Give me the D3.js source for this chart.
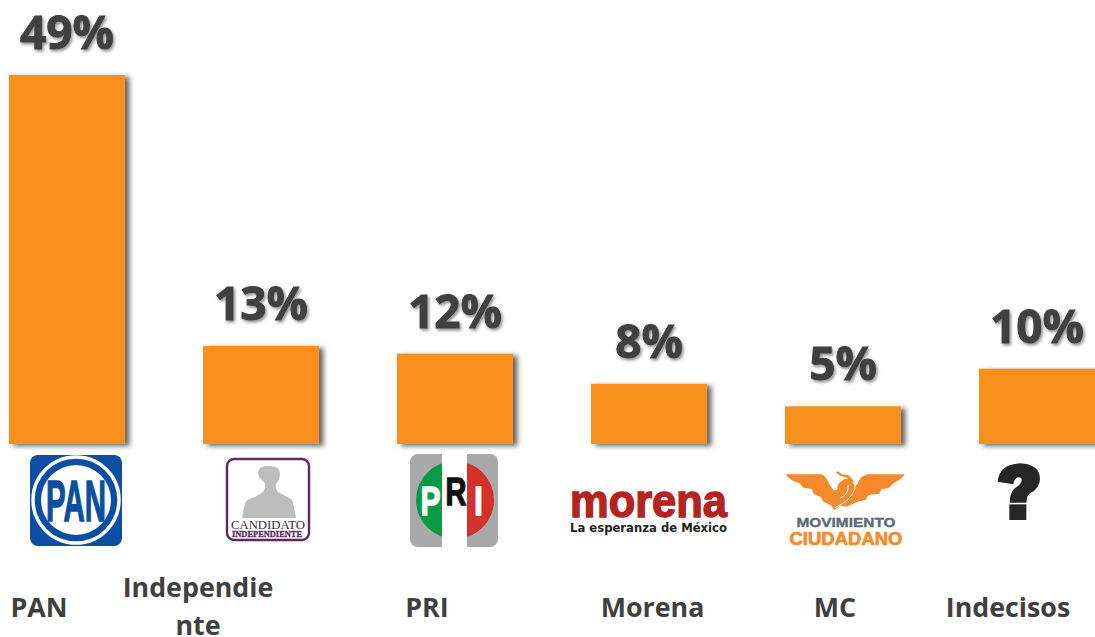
<!DOCTYPE html>
<html><head><meta charset="utf-8">
<script src="https://cdn.jsdelivr.net/npm/d3@7"></script>
<style>html,body{margin:0;padding:0;background:#fff;overflow:hidden}svg{display:block}</style>
</head><body><svg id="c" width="1095" height="637"></svg>
<script>
const categories = ["PAN","Independiente","PRI","Morena","MC","Indecisos"];
const values = [49,13,12,8,5,10];
const labelLines = [["PAN"],["Independie","nte"],["PRI"],["Morena"],["MC"],["Indecisos"]];

const W=1095,H=637, baseY=444, topY=75;
const labelCenters=[39,198,427,652.5,835,1008];
const svg=d3.select("#c");
const defs=svg.append("defs");
const f1=defs.append("filter").attr("id","barShadow").attr("x","-10%").attr("y","-10%").attr("width","130%").attr("height","125%");
f1.append("feDropShadow").attr("dx",4.5).attr("dy",2).attr("stdDeviation",2.8).attr("flood-color","#000").attr("flood-opacity",.6);
const f2=defs.append("filter").attr("id","txtShadow").attr("x","-10%").attr("y","-10%").attr("width","125%").attr("height","130%");
f2.append("feDropShadow").attr("dx",1.5).attr("dy",2).attr("stdDeviation",1.4).attr("flood-color","#000").attr("flood-opacity",.45);

const x=d3.scaleBand().domain(categories).range([-30,1134]).paddingInner(.402).paddingOuter(.201);
const y=d3.scaleLinear().domain([0,49]).range([baseY,topY]);

svg.append("g").selectAll("rect").data(categories).join("rect")
 .attr("x",d=>x(d)).attr("width",x.bandwidth())
 .attr("y",(d,i)=>y(values[i])).attr("height",(d,i)=>baseY-y(values[i]))
 .attr("fill","#f7901e").attr("filter","url(#barShadow)");

svg.append("g").selectAll("text").data(categories).join("text")
 .attr("x",d=>x(d)+x.bandwidth()/2).attr("y",(d,i)=>y(values[i])-26)
 .attr("text-anchor","middle").attr("font-family","'Open Sans'").attr("font-weight",700)
 .attr("font-size",46).attr("fill","#404040").attr("stroke","#404040").attr("stroke-width",.9)
 .attr("filter","url(#txtShadow)")
 .text((d,i)=>values[i]+"%");

const lab=svg.append("g").selectAll("text").data(labelLines).join("text")
 .attr("text-anchor","middle").attr("font-family","'Open Sans'").attr("font-weight",700)
 .attr("font-size",26.8).attr("fill","#404040");
lab.each(function(lines,i){
  const t=d3.select(this);
  const y0=lines.length>1?597:617;
  lines.forEach((l,j)=>t.append("tspan").attr("x",labelCenters[i]).attr("y",y0+j*38).text(l));
});

/* ---- logos ---- */
const sans="'Liberation Sans'", serif="'Liberation Serif'";
// PAN
const pan=svg.append("g");
pan.append("rect").attr("x",30).attr("y",455).attr("width",92).attr("height",91).attr("rx",8).attr("fill","#0b4ea2");
pan.append("circle").attr("cx",76).attr("cy",500).attr("r",43).attr("fill","none").attr("stroke","#fff").attr("stroke-width",3.5);
pan.append("circle").attr("cx",76).attr("cy",500).attr("r",35).attr("fill","#fff");
pan.append("text").attr("x",76).attr("y",521).attr("text-anchor","middle").attr("font-family",sans).attr("font-weight",700)
 .attr("font-size",57).attr("textLength",60).attr("lengthAdjust","spacingAndGlyphs").attr("fill","#0b4ea2")
 .attr("stroke","#0b4ea2").attr("stroke-width",1.4).text("PAN");
// Candidato
const ci=svg.append("g");
ci.append("rect").attr("x",227).attr("y",459).attr("width",82).attr("height",81).attr("rx",7).attr("fill","#fff").attr("stroke","#5b2a5e").attr("stroke-width",2.4);
ci.append("path").attr("fill","#bdbdbd").attr("d","M242,518 L245,503 Q247,499 255,497 L263,492 Q266,488 265,483 Q258,478 258,472 Q259,466 267,466 Q279,465 280,473 Q280,480 276,484 Q275,489 278,492 L287,497 Q293,499 293,503 L296,518 Z");
ci.append("text").attr("x",268).attr("y",528.5).attr("text-anchor","middle").attr("font-family",serif).attr("font-size",11.5).attr("textLength",74).attr("lengthAdjust","spacingAndGlyphs").attr("fill","#3e1f45").text("CANDIDATO");
ci.append("text").attr("x",267).attr("y",536.5).attr("text-anchor","middle").attr("font-family",serif).attr("font-weight",700).attr("font-size",7.5).attr("textLength",70).attr("lengthAdjust","spacingAndGlyphs").attr("fill","#5b2a5e").attr("stroke","#5b2a5e").attr("stroke-width",.3).text("INDEPENDIENTE");
// PRI
const pri=svg.append("g");
pri.append("rect").attr("x",410).attr("y",454).attr("width",88).attr("height",93).attr("rx",8).attr("fill","#a9a9a9");
pri.append("path").attr("fill","#0a9a48").attr("d",d3.arc()({innerRadius:0,outerRadius:39,startAngle:Math.PI,endAngle:2*Math.PI})).attr("transform","translate(455,500)");
pri.append("path").attr("fill","#d2322a").attr("d",d3.arc()({innerRadius:0,outerRadius:39,startAngle:0,endAngle:Math.PI})).attr("transform","translate(455,500)");
pri.append("rect").attr("x",442).attr("y",454).attr("width",25).attr("height",93).attr("fill","#fff");
[["P",430.5,515,"#fff",20,41],["R",456,505,"#111",21,38],["I",478.5,515,"#fff",9,41]].forEach(([t,xx,yy,c,w,fs])=>{
 pri.append("text").attr("x",xx).attr("y",yy).attr("text-anchor","middle").attr("font-family",sans).attr("font-weight",700)
  .attr("font-size",fs).attr("textLength",w).attr("lengthAdjust","spacingAndGlyphs").attr("fill",c)
  .attr("stroke",c).attr("stroke-width",1.3).text(t);
});
// Morena
const mo=svg.append("g");
mo.append("text").attr("x",570).attr("y",517).attr("font-family",sans).attr("font-weight",700).attr("font-size",46)
 .attr("textLength",157).attr("lengthAdjust","spacingAndGlyphs").attr("fill","#b3241f")
 .attr("stroke","#b3241f").attr("stroke-width",1.5).text("morena");
mo.append("text").attr("x",570).attr("y",532).attr("font-family","'DejaVu Sans'").attr("font-weight",700).attr("font-size",12.5)
 .attr("textLength",157).attr("lengthAdjust","spacingAndGlyphs").attr("fill","#222").text("La esperanza de México");
// MC
const mc=svg.append("g");
const mark=mc.append("g").attr("transform","translate(780,465) scale(0.3333)");
mark.append("path").attr("fill","#f58a2c").attr("d","M17,28 L125,28 Q135,32 143,48 Q150,62 158,72 Q165,80 172,72 Q172,58 180,52 Q190,42 205,40 Q195,35 180,32 L168,22 L175,19 L185,28 L205,30 L215,40 Q226,52 222,62 Q232,62 235,50 Q242,34 262,28 L375,28 Q362,45 340,55 L325,70 L305,72 L298,86 L265,90 L258,104 L232,110 L200,125 L180,122 L163,135 L155,122 L130,110 L122,96 L102,88 L95,72 L70,68 L58,55 Q30,48 17,28 Z");
mark.append("path").attr("fill","none").attr("stroke","#fff").attr("stroke-width",3).attr("d","M165,128 Q215,105 225,70 Q228,60 218,50 M205,60 Q205,90 180,100");
mc.append("text").attr("x",846).attr("y",527).attr("text-anchor","middle").attr("font-family",sans).attr("font-weight",700).attr("font-size",13)
 .attr("textLength",99).attr("lengthAdjust","spacingAndGlyphs").attr("fill","#5f6b76").attr("stroke","#5f6b76").attr("stroke-width",.4).text("MOVIMIENTO");
mc.append("text").attr("x",846).attr("y",545).attr("text-anchor","middle").attr("font-family",sans).attr("font-weight",700).attr("font-size",18.5)
 .attr("textLength",113).attr("lengthAdjust","spacingAndGlyphs").attr("fill","#f58a2c").attr("stroke","#f58a2c").attr("stroke-width",.7).text("CIUDADANO");
// Indecisos mark
const q=svg.append("g").attr("transform","translate(985,455) scale(0.3333)").attr("fill","#262626");
q.append("path").attr("d","M38,80 Q42,28 105,25 Q165,28 165,72 Q165,100 135,115 Q125,122 124,143 L75,143 Q72,110 95,95 Q112,85 110,72 Q108,65 95,68 Q88,72 85,88 Z");
q.append("rect").attr("x",73).attr("y",148).attr("width",51).attr("height",47);
</script></body></html>
